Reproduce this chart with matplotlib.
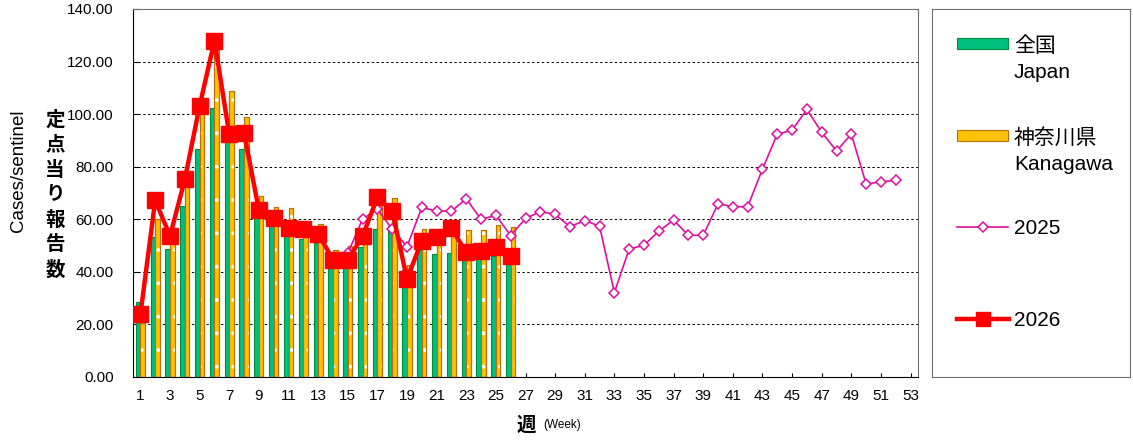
import matplotlib
matplotlib.use("Agg")
import matplotlib.pyplot as plt
from matplotlib.patches import Rectangle
from matplotlib.lines import Line2D
import numpy as np

plt.rcParams['font.family'] = ['Liberation Sans', 'Noto Sans CJK JP', 'DejaVu Sans']

#---------------------------------------
# data
#---------------------------------------
weeks_all = list(range(1, 54))
tick_weeks = list(range(1, 54, 2))

weeks_now = list(range(1, 27))
japan = [28.6, 53.4, 48.7, 64.9, 86.6, 102.3, 91.0, 86.6, 61.5, 58.6,
         54.0, 52.4, 51.0, 42.0, 44.0, 49.6, 56.2, 57.4, 40.7, 48.3,
         46.7, 47.0, 46.5, 46.0, 46.0, 44.5]
kanagawa = [20.7, 60.0, 51.5, 73.0, 100.3, 124.5, 108.8, 98.9, 68.7, 64.5,
            64.3, 58.3, 58.3, 48.2, 49.7, 56.0, 66.0, 68.0, 42.6, 56.2,
            56.2, 59.1, 55.9, 55.9, 57.7, 56.9]
y2026 = [23.8, 67.2, 53.6, 75.2, 103.2, 127.9, 92.3, 92.7, 63.5, 60.6,
         56.5, 56.3, 54.5, 44.7, 44.5, 53.6, 68.3, 63.3, 37.2, 51.9,
         53.1, 56.6, 47.4, 48.0, 49.3, 46.0]

weeks_2025 = list(range(15, 53))
y2025 = [47.0, 60.1, 63.8, 56.3, 49.6, 64.5, 63.1, 63.1, 67.8, 60.0,
         61.5, 53.8, 60.3, 62.9, 61.9, 57.2, 59.5, 57.4, 32.1, 48.7,
         50.1, 55.5, 59.7, 53.9, 53.9, 65.9, 64.8, 64.8, 79.1, 92.4,
         93.9, 101.8, 93.1, 86.0, 92.4, 73.4, 74.3, 74.8]

green = '#00C080'
green_edge = '#008A3C'
orange = '#FFC000'
orange_edge = '#B8700A'
magenta = '#DD10A0'
red = '#FF0000'

#---------------------------------------
# figure
#---------------------------------------
W, H = 1133, 441
fig = plt.figure(figsize=(W / 100, H / 100), dpi=100)
ax = fig.add_axes([133 / W, 1 - 377 / H, 785 / W, 368 / H])

plt.rcParams['hatch.color'] = 'white'
plt.rcParams['hatch.linewidth'] = 0.4

bw = 0.31
x = np.array(weeks_now)
ax.bar(x - bw / 2, japan, bw, color=green, edgecolor=green_edge, linewidth=0.8, zorder=2)
ax.bar(x + bw / 2, kanagawa, bw, color=orange, edgecolor=orange_edge, linewidth=0.8, zorder=2)
ax.bar(x + bw / 2, kanagawa, bw, color='none', edgecolor='white', hatch='.', linewidth=0, zorder=2)
ax.bar(x + bw / 2, kanagawa, bw, fill=False, edgecolor=orange_edge, linewidth=0.8, zorder=2)

ax.plot(weeks_2025, y2025, color=magenta, lw=1.2, marker='D', ms=5.5,
        mfc='white', mec=magenta, mew=1.1, zorder=3)
ax.plot(weeks_now, y2026, color=red, lw=3.2, marker='s', ms=11,
        mfc=red, mec=red, zorder=4)

ax.set_xlim(0.5, 53.5)
ax.set_ylim(0, 140)
ax.set_yticks(np.arange(0, 141, 20))
ax.set_yticklabels([f'{v:.2f}' for v in np.arange(0, 141, 20)], fontsize=11)
ax.set_xticks(tick_weeks)
ax.set_xticklabels([str(w) for w in tick_weeks], fontsize=11)
ax.tick_params(axis='y', direction='in', length=4, pad=14)
ax.tick_params(axis='x', direction='in', length=3, pad=9)
ax.yaxis.grid(True, color='black', linestyle=(0, (2.5, 2.5)), lw=0.7)
ax.set_axisbelow(True)
for s in ['top', 'right']:
    ax.spines[s].set_color('#707070')
for s in ['left', 'bottom']:
    ax.spines[s].set_color('black')

# axis titles
fig.text(19 / W, 1 - 171 / H, 'Cases/sentinel', rotation=90, fontsize=13.5,
         ha='center', va='center')
for i, ch in enumerate('定点当り報告数'):
    fig.text(55 / W, 1 - (120 + 25 * i) / H, ch, fontsize=14, weight='bold',
             ha='center', va='center')
fig.text(526 / W, 1 - 426 / H, '週', fontsize=14, weight='bold', ha='center', va='center')
fig.text(543 / W, 1 - 425 / H, '(Week)', fontsize=8.5, ha='left', va='center')

#---------------------------------------
# legend box
#---------------------------------------
lg = fig.add_axes([932 / W, 1 - 377 / H, 198 / W, 368 / H])
lg.set_xlim(0, 198)
lg.set_ylim(368, 0)
lg.set_xticks([])
lg.set_yticks([])
for s in lg.spines.values():
    s.set_color('#707070')

lg.add_patch(Rectangle((25, 29), 51, 11, facecolor=green, edgecolor=green_edge, lw=0.8))
lg.add_patch(Rectangle((25, 121), 51, 11, facecolor=orange, edgecolor=orange_edge, lw=0.8))
lg.add_line(Line2D([25, 76], [218, 218], color=magenta, lw=1.2))
lg.plot([50.5], [218], marker='D', ms=5.5, mfc='white', mec=magenta, mew=1.1)
lg.add_line(Line2D([25, 77], [310, 310], color=red, lw=3.2))
lg.plot([51], [310], marker='s', ms=10.5, color=red)

lg.text(82, 37, '全国', fontsize=15, va='center')
lg.text(82, 64, 'Japan', fontsize=15, va='center')
lg.text(82, 129, '神奈川県', fontsize=15, va='center')
lg.text(82, 155, 'Kanagawa', fontsize=15, va='center')
lg.text(82, 219, '2025', fontsize=15, va='center')
lg.text(82, 311, '2026', fontsize=15, va='center')

fig.savefig('out.png', dpi=100)
